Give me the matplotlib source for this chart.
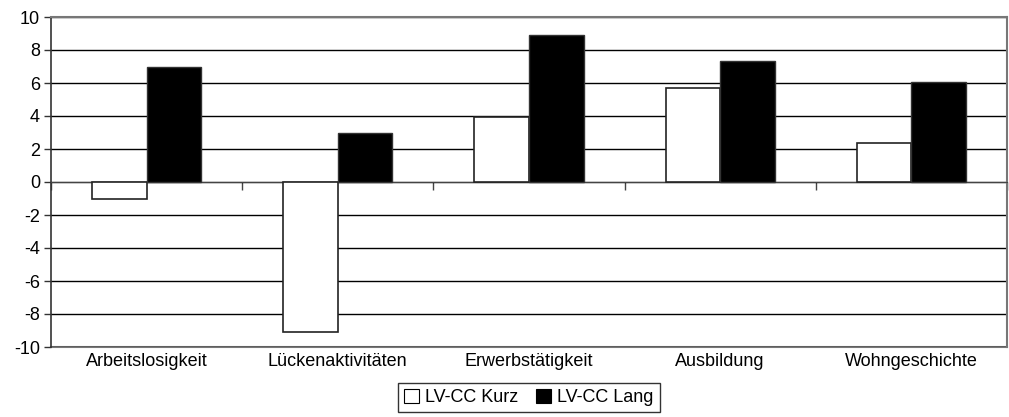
import numpy as np
import matplotlib
matplotlib.use("Agg")
import matplotlib.pyplot as plt
from matplotlib.patches import Patch

plt.rcParams['font.family'] = ['Liberation Sans', 'DejaVu Sans']
plt.rcParams['axes.unicode_minus'] = False

categories = ["Arbeitslosigkeit", "Lückenaktivitäten", "Erwerbstätigkeit",
              "Ausbildung", "Wohngeschichte"]
kurz = [-1.05, -9.07, 3.96, 5.7, 2.34]
lang = [6.95, 2.99, 8.9, 7.35, 6.04]
series_names = ["LV-CC Kurz", "LV-CC Lang"]

fs = 13

fig = plt.figure(figsize=(10.09, 4.17), dpi=100)
ax = fig.add_axes([51 / 1009, 70 / 417, 956 / 1009, 330 / 417])

x = np.arange(len(categories))
w = 1 / 3.5
ax.bar(x - w / 2, kurz, w, color="white", edgecolor="#222222", linewidth=1.2, zorder=3)
ax.bar(x + w / 2, lang, w, color="black", edgecolor="#333333", linewidth=1.0, zorder=3)

ax.set_xlim(-0.5, len(categories) - 0.5)
ax.set_ylim(-10, 10)
ax.set_yticks(np.arange(-10, 11, 2))
ax.tick_params(axis='y', labelsize=fs, length=5, width=1, direction='out', color="#333333", pad=3)
ax.yaxis.grid(True, color="black", linewidth=1)
ax.set_axisbelow(True)

# category axis drawn at zero with ticks at the boundaries
ax.spines['bottom'].set_position(('data', 0))
ax.spines['bottom'].set_color("#444444")
ax.set_xticks(np.arange(len(categories) + 1) - 0.5)
ax.set_xticklabels([])
ax.tick_params(axis='x', length=6, width=1, direction='out', color="#444444")

for s in ['top', 'right']:
    ax.spines[s].set_color("#777777")
    ax.spines[s].set_linewidth(1.5)
ax.spines['left'].set_color("#333333")
ax.spines['left'].set_linewidth(1.2)

# frame line at the bottom and category labels below it
sec = ax.secondary_xaxis(0)
sec.set_xticks(x)
sec.set_xticklabels(categories)
sec.tick_params(length=0, labelsize=fs, pad=4)
sec.spines['bottom'].set_color("#777777")
sec.spines['bottom'].set_linewidth(1.5)

handles = [Patch(facecolor="white", edgecolor="black", linewidth=0.8),
           Patch(facecolor="black", edgecolor="black", linewidth=0.8)]
leg = fig.legend(handles, series_names, loc="center", bbox_to_anchor=(529 / 1009, 19.5 / 417),
                 ncol=2, fontsize=fs, frameon=True, fancybox=False, edgecolor="black",
                 handlelength=0.8, handleheight=0.8, handletextpad=0.35, columnspacing=1.0,
                 borderpad=0.35, borderaxespad=0)
leg.get_frame().set_linewidth(1.0)

plt.savefig("out.png", dpi=100)
plt.close()
